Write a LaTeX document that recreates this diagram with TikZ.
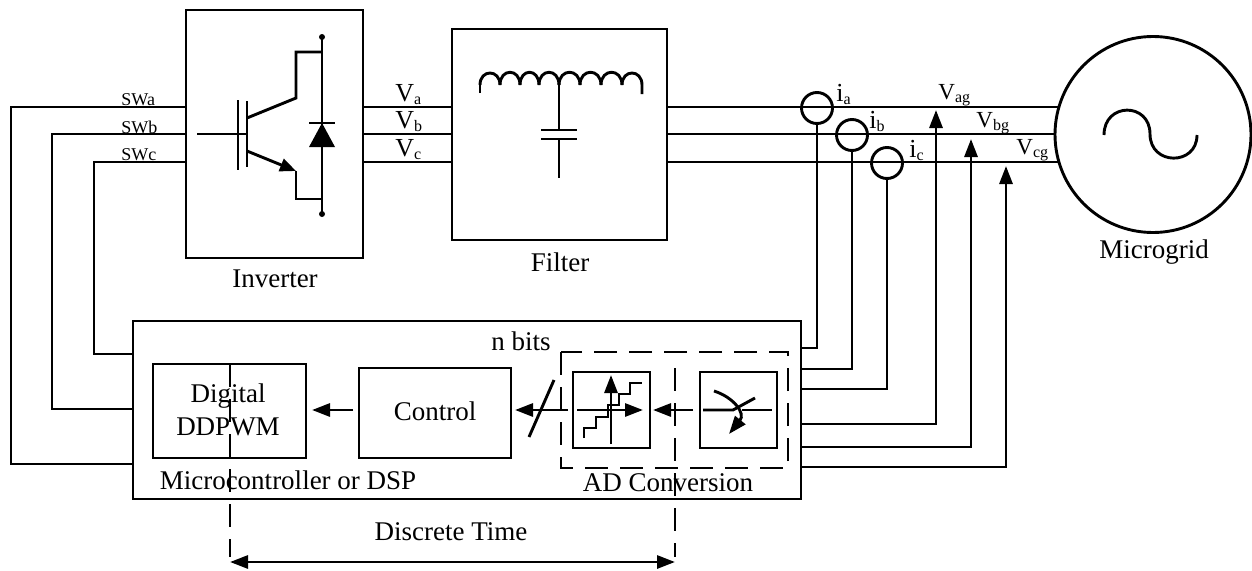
\documentclass[tikz,border=0pt]{standalone}
\usepackage{fontspec}
\setmainfont{Liberation Serif}
\usetikzlibrary{arrows.meta,calc}
\newcommand{\phs}[1]{\textsubscript{\fontsize{16}{17}\selectfont #1}}

\begin{document}
\begin{tikzpicture}[x=1pt,y=-1pt,line width=2.9pt,
  blk/.style={draw,rectangle,inner sep=0pt,outer sep=0pt},
  lbl/.style={inner sep=0pt,font=\fontsize{27}{33}\selectfont,align=center},
  swlbl/.style={inner sep=0pt,anchor=base west,font=\fontsize{18}{20}\selectfont},
  vlbl/.style={inner sep=0pt,anchor=base west,font=\fontsize{26}{30}\selectfont},
  vglbl/.style={vlbl,font=\fontsize{23}{26}\selectfont},
  sig/.style={-{Triangle[length=18pt,width=13pt]}},
  dash box/.style={dash pattern=on 23pt off 12pt}]
\useasboundingbox (0,0) rectangle (1252,570);

% Levels of the three phases and of the signal path
\coordinate (la) at (0,107);
\coordinate (lb) at (0,134);
\coordinate (lc) at (0,162);
\coordinate (bus) at (0,410);

% Main blocks
\node[blk,minimum width=177pt,minimum height=248pt] (inverter) at (274.5,134) {};
\node[blk,minimum width=215pt,minimum height=211pt] (filter) at (559.5,134.5) {};
\node[blk,circle,minimum size=196pt] (grid) at (1153,134.5) {};
\node[blk,minimum width=668pt,minimum height=178pt] (mcu) at (467,410) {};
\node[blk,minimum width=153pt,minimum height=94pt] (pwm) at (229.5,411) {};
\node[blk,minimum width=152pt,minimum height=90pt] (control) at (435,413) {};
\node[blk,minimum width=77pt,minimum height=76pt] (quant) at (611.5,410) {};
\node[blk,minimum width=77pt,minimum height=76pt] (sampler) at (738.5,410) {};

% Current sensors
\node[blk,circle,minimum size=31pt] (cta) at (817,108) {};
\node[blk,circle,minimum size=31pt] (ctb) at (852,135) {};
\node[blk,circle,minimum size=31pt] (ctc) at (887,163) {};

% Labels
\node[lbl] (lblinv) at (275,279) {Inverter};
\node[lbl] (lblfil) at (560,262) {Filter};
\node[lbl] (lblgrid) at (1154,252) {Microgrid};
\node[lbl] (lblbits) at (521,341) {n bits};
\node[lbl] (lblpwm) at (228,410) {Digital\\DDPWM};
\node[lbl] (lblctl) at (435,411) {Control};
\node[lbl] (lblmcu) at (288,480) {Microcontroller or DSP};
\node[lbl] (lblad) at (668,483) {AD Conversion};
\node[lbl] (lbltime) at (451,532) {Discrete Time};

\node[swlbl] (lswa) at (120,105) {SWa};
\node[swlbl] (lswb) at (120,133) {SWb};
\node[swlbl] (lswc) at (120,160) {SWc};
\node[vlbl] (lva) at (394,101) {V\phs{a}};
\node[vlbl] (lvb) at (394,128) {V\phs{b}};
\node[vlbl] (lvc) at (394,156) {V\phs{c}};
\node[vlbl] (lia) at (835,101) {i\phs{a}};
\node[vlbl] (lib) at (868,128) {i\phs{b}};
\node[vlbl] (lic) at (908,157) {i\phs{c}};
\node[vglbl] (lvag) at (937,99) {V\phs{ag}};
\node[vglbl] (lvbg) at (975,127) {V\phs{bg}};
\node[vglbl] (lvcg) at (1015,154) {V\phs{cg}};

% Gate signals
\draw (inverter.west |- la) -| (11,464) -- (mcu.west |- 0,464);
\draw (inverter.west |- lb) -| (52,409) -- (mcu.west |- 0,409);
\draw (inverter.west |- lc) -| (94,354) -- (mcu.west |- 0,354);

% Inverter to filter
\foreach \l in {la,lb,lc} {
  \draw (inverter.east |- \l) -- (filter.west |- \l);
}

% Filter to grid
\draw (filter.east |- la) -- (grid.164 |- la);
\draw (filter.east |- lb) -- (grid.180 |- lb);
\draw (filter.east |- lc) -- (grid.196 |- lc);

% Measurements back to the controller
\coordinate (tipag) at (936,110);
\coordinate (tipbg) at (971,139);
\coordinate (tipcg) at (1006,166);
\draw (mcu.east |- 0,348) -| (cta.south);
\draw (mcu.east |- 0,369) -| (ctb.south);
\draw (mcu.east |- 0,389) -| (ctc.south);
\draw[sig] (mcu.east |- 0,424) -| (tipag);
\draw[sig] (mcu.east |- 0,447) -| (tipbg);
\draw[sig] (mcu.east |- 0,467) -| (tipcg);

% Signal path
\draw[sig,shorten >=6pt,shorten <=6pt] (control.west |- bus) -- (pwm.east |- bus);
\draw[sig,shorten >=4pt,shorten <=5pt] (quant.west |- bus) -- (control.east |- bus);
\draw[sig,shorten >=3pt,shorten <=7pt] (sampler.west |- bus) -- (quant.east |- bus);
\draw (554,380) -- (529,437);

% Dashed regions
\draw[dash box] (561,352) rectangle (788,468);
\draw[dash box] (230,364) -- (230,557);
\draw[dash box] (675,368) -- (675,557);
\coordinate (timel) at (230,562);
\coordinate (timer) at (675,562);
\draw[{Triangle[length=18pt,width=13pt]}-{Triangle[length=18pt,width=13pt]}] (timel) -- (timer);

% IGBT and diode
\draw (197,134) -- (247,134);
\draw (238,100) -- (238,170);
\draw (247,101) -- (247,167);
\draw (247,118) -- (296,98) -- (296,52) -- (322,52);
\draw[-{Triangle[length=16pt,width=13pt]}] (247,151) -- (296,171);
\draw (296,171) -- (296,199) -- (322,199);
\draw (322,37) -- (322,214);
\fill (322,37) circle (3pt);
\fill (322,214) circle (3pt);
\draw (309,123) -- (335,123);
\fill (322,123) -- (335,147) -- (309,147) -- cycle;

% LC branch
\draw (480,93) -- (480,85);
\draw (480,85) .. controls (480,69) and (500,69) .. (500,85);
\foreach \a/\b in {500/520,520/539,539/559,559/580,580/601,601/622} {
  \draw (\a,85) .. controls (\a,68) and (\b,68) .. (\b,85);
}
\draw (622,85) .. controls (622,69) and (642,69) .. (642,85) -- (642,94);
\draw (559,85) -- (559,130);
\draw (541,130) -- (577,130);
\draw (541,139) -- (577,139);
\draw (559,139) -- (559,178);

% Sine of the grid source
\draw (1104,135) .. controls (1104,102) and (1150,102) .. (1150,134) .. controls (1150,166) and (1197,166) .. (1197,135);

% Quantizer
\draw[sig] (577,410) -- (643,410);
\draw[sig] (611,444) -- (611,375);
\draw (584,438) |- (596,428) |- (608,417) |- (619,405) |- (630,394) |- (642,383);

% Sampling switch
\draw (703,410) -- (733,410) -- (755,398);
\draw (742,410) -- (772,410);
\draw[sig] (714,391) .. controls (733,397) and (746,413) .. (729,434);
\end{tikzpicture}
\end{document}
